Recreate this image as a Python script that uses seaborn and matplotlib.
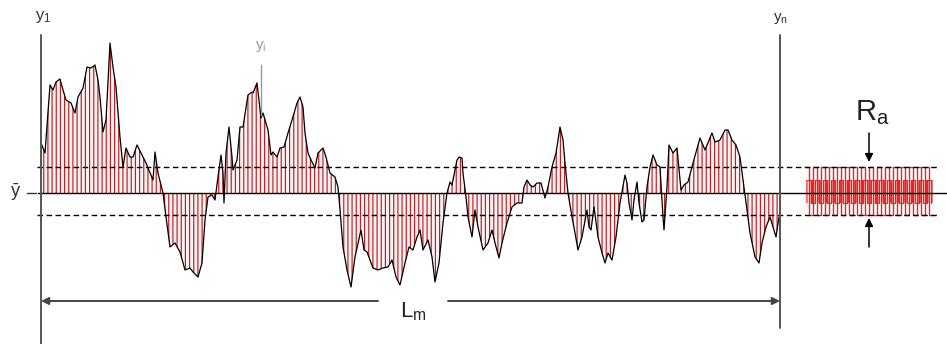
import numpy as np
import pandas as pd
import matplotlib
matplotlib.use("Agg")
import matplotlib.pyplot as plt
import seaborn as sns

# profile positions (px along the trace) and heights above the mean line
profile_x = [
    41, 45, 50, 53, 56, 60, 63, 66, 71, 75,
    78, 83, 87, 91, 95, 98, 100, 103, 106, 110,
    113, 116, 120, 123, 126, 130, 133, 137, 141, 146,
    153, 155, 158, 163, 166, 170, 175, 180, 185, 190,
    193, 198, 202, 205, 208, 212, 215, 218, 221, 223,
    224, 226, 229, 232, 233, 237, 240, 243, 248, 252,
    253, 257, 259, 261, 263, 266, 268, 271, 273, 277,
    280, 284, 288, 292, 297, 300, 303, 305, 308, 312,
    315, 318, 323, 326, 330, 335, 338, 340, 343, 347,
    351, 355, 361, 364, 367, 373, 378, 383, 388, 392,
    396, 400, 405, 409, 413, 417, 420, 423, 428, 432,
    435, 439, 443, 447, 450, 452, 457, 459, 462, 463,
    466, 468, 472, 475, 478, 483, 488, 492, 495, 499,
    502, 507, 512, 517, 522, 524, 527, 530, 533, 537,
    541, 545, 548, 552, 556, 560, 563, 565, 568, 572,
    575, 578, 582, 587, 589, 591, 594, 598, 602, 605,
    608, 612, 616, 620, 625, 627, 629, 632, 634, 637,
    639, 642, 644, 647, 650, 653, 657, 660, 663, 664,
    667, 669, 673, 677, 681, 684, 688, 693, 700, 705,
    712, 715, 720, 725, 728, 732, 736, 740, 743, 746,
    750, 755, 759, 762, 766, 770, 773, 776, 779,
]
profile_y = [
    50, 40, 108, 103, 111, 114, 103, 93, 90, 80,
    96, 105, 126, 125, 128, 113, 96, 61, 73, 150,
    126, 106, 56, 26, 45, 36, 36, 48, 40, 30,
    13, 41, 20, 0, -24, -54, -50, -59, -77, -75,
    -79, -84, -70, -27, -4, -2, -7, 16, 38, 20,
    -10, 40, 66, 36, 23, 33, 66, 66, 98, 101,
    100, 110, 93, 75, 80, 70, 63, 38, 41, 36,
    45, 46, 60, 73, 90, 96, 86, 60, 40, 31,
    25, 40, 45, 36, 20, 16, 6, -17, -54, -77,
    -94, -64, -37, -57, -59, -75, -77, -75, -74, -67,
    -84, -92, -70, -54, -57, -44, -37, -57, -47, -64,
    -89, -70, -30, 0, 11, 8, 33, 36, 35, 20,
    -4, -24, -44, -17, -34, -57, -50, -37, -50, -65,
    -50, -30, -14, -10, -10, 6, 13, 8, 6, 10,
    10, -5, 6, 26, 40, 66, 53, 30, 0, -24,
    -40, -57, -44, -17, -34, -37, -14, -44, -60, -70,
    -60, -67, -44, -10, 18, 10, -10, -27, -7, 11,
    -10, -29, -27, 6, 26, 38, 28, 26, -24, -37,
    6, 48, 40, 45, 3, 8, 11, 30, 55, 43,
    60, 51, 53, 63, 63, 53, 48, 36, 13, -10,
    -40, -64, -70, -50, -34, -24, -34, -44, -24,
]
assert len(profile_x) == len(profile_y)

# Ra band: outer square wave at +/-Ra and a tighter inner one
ra_top = 26
ra_bottom = -22
ra_x = [805, 809, 813, 817, 821, 825, 829, 833, 837, 841, 845,
        849, 853, 857, 861, 865, 869, 873, 877, 881, 885, 889,
        893, 897, 901, 905, 909, 913, 917, 921, 925, 929, 933]
ra_levels = [26, -22, 26, -22, 26, -22, 26, -22, 26, -22, 26,
             -22, 26, -22, 26, -22, 26, -22, 26, -22, 26, -22,
             26, -22, 26, -22, 26, -22, 26, -22, 26, -22, -22]
ra_inner_x = [807, 811, 815, 819, 823, 827, 831, 835, 839, 843, 847,
              851, 855, 859, 863, 867, 871, 875, 879, 883, 887, 891,
              895, 899, 903, 907, 911, 915, 919, 923, 927, 931]
ra_inner_levels = [13, -10, 13, -10, 13, -10, 13, -10, 13, -10, 13,
                   -10, 13, -10, 13, -10, 13, -10, 13, -10, 13, -10,
                   13, -10, 13, -10, 13, -10, 13, -10, 13, -10]

x_start, x_end = 41, 780

sns.set_theme(style="white")
plt.rcParams["font.family"] = ["Liberation Sans", "DejaVu Sans"]
plt.rcParams["hatch.linewidth"] = 0.85

df = pd.DataFrame({"x": profile_x, "y": profile_y})

fig = plt.figure(figsize=(9.47, 3.44), dpi=100)
ax = fig.add_axes([0, 0, 1, 1])
ax.set_xlim(0, 947)
ax.set_ylim(-151, 193)
ax.axis("off")

red = "#b42428"
ra_red = "#e52525"

# hatched area between profile and mean line
ax.fill_between(df["x"], df["y"], 0, facecolor="#fcf0f0", edgecolor=red,
                hatch="||||", linewidth=0, zorder=1)
sns.lineplot(data=df, x="x", y="y", color="black", lw=0.9,
             estimator=None, sort=False, ax=ax, zorder=3)

# Ra equivalent band
ax.fill_between([805, 933], [ra_inner_levels[0]] * 2, [ra_inner_levels[1]] * 2,
                facecolor="#fdf0f0", edgecolor=ra_red, hatch="||||||",
                linewidth=0, zorder=1)
ax.step(ra_x, ra_levels, where="post", color=ra_red, lw=1.0, zorder=2)
ax.step(ra_inner_x, ra_inner_levels, where="post", color=ra_red, lw=0.8,
        zorder=2)

# mean line and Ra limits
ax.plot([38, 947], [0, 0], color="black", lw=1.0, zorder=4)
ax.plot([27, 36], [0, 0], color="#333333", lw=1.0)
for lvl in (ra_top, ra_bottom):
    ax.plot([37, 937], [lvl, lvl], color="black", lw=1.0,
            linestyle=(0, (4, 2.5)), zorder=4)

# sampling length boundaries
ax.plot([x_start, x_start], [158, -151], color="#555555", lw=1.4, zorder=5)
ax.plot([x_end, x_end], [158, -135], color="#555555", lw=1.4, zorder=5)

# Lm dimension
arrow_kw = dict(arrowstyle="-|>", color="#444444", lw=1.4, mutation_scale=11,
                shrinkA=0, shrinkB=0)
ax.annotate("", xy=(x_start, -108), xytext=(378, -108), arrowprops=arrow_kw)
ax.annotate("", xy=(x_end, -108), xytext=(448, -108), arrowprops=arrow_kw)
ax.text(413, -119, r"$\mathregular{L_m}$", fontsize=16, ha="center",
        va="center", color="#222222")

# Ra arrows
ra_kw = dict(arrowstyle="-|>", color="black", lw=1.1, mutation_scale=12,
             shrinkA=0, shrinkB=0)
ax.annotate("", xy=(869, 31), xytext=(869, 60), arrowprops=ra_kw)
ax.annotate("", xy=(869, -25), xytext=(869, -54), arrowprops=ra_kw)
ax.text(872, 80, r"$\mathregular{R_a}$", fontsize=21, ha="center",
        va="center", color="#222222")

# labels
ax.text(43, 176, r"$\mathregular{y_1}$", fontsize=12, ha="center",
        va="center", color="#333333")
ax.text(781, 174, r"$\mathregular{y_n}$", fontsize=11, ha="center",
        va="center", color="#333333")
ax.text(261, 146, r"$\mathregular{y_i}$", fontsize=11, ha="center",
        va="center", color="#999999")
ax.plot([261, 261], [128, 78], color="#999999", lw=1.0, zorder=4)
ax.text(15, 1, "ȳ", fontsize=13, ha="center", va="center", color="#333333")

fig.savefig("out.png", dpi=100)
plt.close(fig)
